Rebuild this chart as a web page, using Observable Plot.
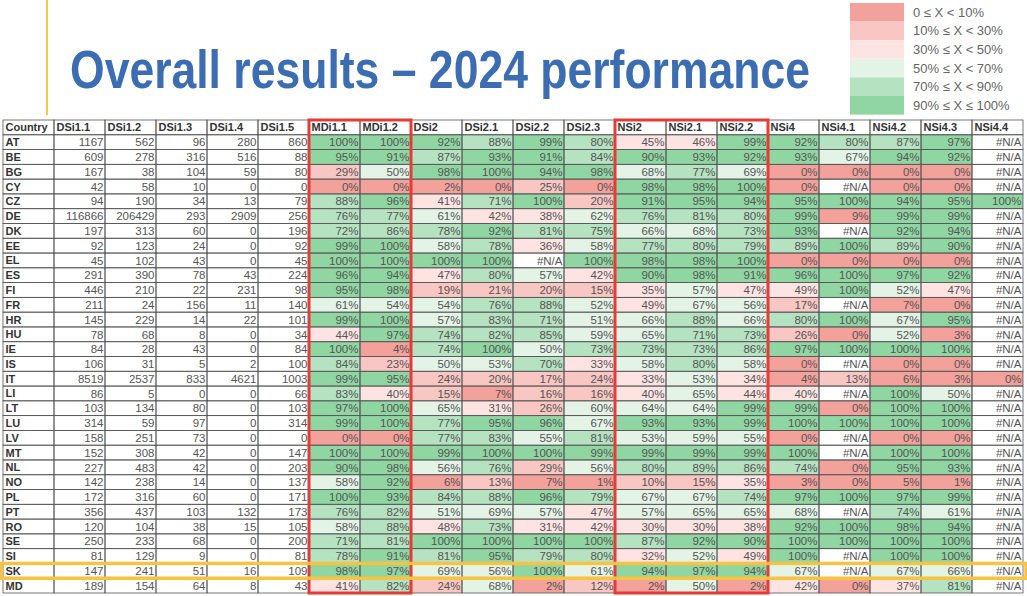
<!DOCTYPE html>
<html><head><meta charset="utf-8">
<script src="https://cdn.jsdelivr.net/npm/d3@7"></script>
<script src="https://cdn.jsdelivr.net/npm/@observablehq/plot@0.6"></script>
<style>
body{margin:0;background:#fff;font-family:"Liberation Sans",Arial,sans-serif;}
#page{position:relative;width:1027px;height:596px;overflow:hidden;background:#fff;}
#head{position:relative;width:1027px;height:118px;}
#chart{position:absolute;left:0;top:118px;}
</style></head><body>
<div id="page">
<div id="head">
<svg id="hsvg" width="1027" height="118" style="position:absolute;left:0;top:0" font-family="Liberation Sans, Arial, sans-serif">
<line x1="47" y1="0" x2="47" y2="115" stroke="#f5c84c" stroke-width="2"/>
<text id="title" x="70" y="88" font-weight="bold" font-size="53" fill="#3c6db3" textLength="740" lengthAdjust="spacingAndGlyphs"></text>
<g id="legend"></g>
</svg>
</div>
<div id="chart"></div>
</div>
<script>
const titleText = "Overall results – 2024 performance";
const countries = ["AT","BE","BG","CY","CZ","DE","DK","EE","EL","ES","FI","FR","HR","HU","IE","IS","IT","LI","LT","LU","LV","MT","NL","NO","PL","PT","RO","SE","SI","SK","MD"];
const countColumns = ["DSi1.1","DSi1.2","DSi1.3","DSi1.4","DSi1.5"];
const pctColumns = ["MDi1.1","MDi1.2","DSi2","DSi2.1","DSi2.2","DSi2.3","NSi2","NSi2.1","NSi2.2","NSi4","NSi4.1","NSi4.2","NSi4.3","NSi4.4"];

const DSi1_1 = [1167,609,167,42,94,116866,197,92,45,291,446,211,145,78,84,106,8519,86,103,314,158,152,227,142,172,356,120,250,81,147,189];
const DSi1_2 = [562,278,38,58,190,206429,313,123,102,390,210,24,229,68,28,31,2537,5,134,59,251,308,483,238,316,437,104,233,129,241,154];
const DSi1_3 = [96,316,104,10,34,293,60,24,43,78,22,156,14,8,43,5,833,0,80,97,73,42,42,14,60,103,38,68,9,51,64];
const DSi1_4 = [280,516,59,0,13,2909,0,0,0,43,231,11,22,0,0,2,4621,0,0,0,0,0,0,0,0,132,15,0,0,16,8];
const DSi1_5 = [860,88,80,0,79,256,196,92,45,224,98,140,101,34,84,100,1003,66,103,314,0,147,203,137,171,173,105,200,81,109,43];

const MDi1_1 = [100,95,29,0,88,76,72,99,100,96,95,61,99,44,100,84,99,83,97,99,0,100,90,58,100,76,58,71,78,98,41];
const MDi1_2 = [100,91,50,0,96,77,86,100,100,94,98,54,100,97,4,23,95,40,100,100,0,100,98,92,93,82,88,81,91,97,82];
const DSi2   = [92,87,98,2,41,61,78,58,100,47,19,54,57,74,74,50,24,15,65,77,77,99,56,6,84,51,48,100,81,69,24];
const DSi2_1 = [88,93,100,0,71,42,92,78,100,80,21,76,83,82,100,53,20,7,31,95,83,100,76,13,88,69,73,100,95,56,68];
const DSi2_2 = [99,91,94,25,100,38,81,36,null,57,20,88,71,85,50,70,17,16,26,96,55,100,29,7,96,57,31,100,79,100,2];
const DSi2_3 = [80,84,98,0,20,62,75,58,100,42,15,52,51,59,73,33,24,16,60,67,81,99,56,1,79,47,42,100,80,61,12];
const NSi2   = [45,90,68,98,91,76,66,77,98,90,35,49,66,65,73,58,33,40,64,93,53,99,80,10,67,57,30,87,32,94,2];
const NSi2_1 = [46,93,77,98,95,81,68,80,98,98,57,67,88,71,73,80,53,65,64,93,59,99,89,15,67,65,30,92,52,97,50];
const NSi2_2 = [99,92,69,100,94,80,73,79,100,91,47,56,66,73,86,58,34,44,99,99,55,99,86,35,74,65,38,90,49,94,2];
const NSi4   = [92,93,0,0,95,99,93,89,0,96,49,17,80,26,97,0,4,40,99,100,0,100,74,3,97,68,92,100,100,67,42];
const NSi4_1 = [80,67,0,null,100,9,null,100,0,100,100,null,100,0,100,null,13,null,0,100,null,null,0,0,100,null,100,100,null,null,0];
const NSi4_2 = [87,94,0,0,94,99,92,89,0,97,52,7,67,52,100,0,6,100,100,100,0,100,95,5,97,74,98,100,100,67,37];
const NSi4_3 = [97,92,0,0,95,99,94,90,0,92,47,0,95,3,100,0,3,50,100,100,0,100,93,1,99,61,94,100,100,66,81];
const NSi4_4 = [null,null,null,null,100,null,null,null,null,null,null,null,null,null,null,null,0,null,null,null,null,null,null,null,null,null,null,null,null,null,null];

const countValues = [DSi1_1, DSi1_2, DSi1_3, DSi1_4, DSi1_5];
const pctValues = [MDi1_1, MDi1_2, DSi2, DSi2_1, DSi2_2, DSi2_3, NSi2, NSi2_1, NSi2_2, NSi4, NSi4_1, NSi4_2, NSi4_3, NSi4_4];

const highlightedGroups = [["MDi1.1","MDi1.2"],["NSi2","NSi2.1","NSi2.2"]];
const highlightedCountry = "SK";

const binThresholds = [10,30,50,70,90];
const binColors = ["#f2a19b","#f8c6c3","#fde4e3","#e3f4e6","#b5e2c1","#90d6a3"];
const binLabels = ["0 ≤ X < 10%","10% ≤ X < 30%","30% ≤ X < 50%","50% ≤ X < 70%","70% ≤ X < 90%","90% ≤ X ≤ 100%"];

document.getElementById("title").textContent = titleText;

// legend (SVG)
const lg = d3.select("#legend");
const rowH = 18.6;
binLabels.forEach((t,i)=>{
  lg.append("rect").attr("x",850).attr("y",3 + i*rowH).attr("width",54).attr("height",rowH).attr("fill",binColors[i]);
  lg.append("text").attr("x",913).attr("y",3 + i*rowH + rowH/2).attr("dy","0.35em")
    .attr("font-size",13).attr("fill","#666").text(t);
});

// table cells
const columns = ["Country", ...countColumns, ...pctColumns];
const rows = ["header", ...countries];
const cells = [];
rows.forEach((row, r) => {
  columns.forEach((col, c) => {
    let label, v = null, kind;
    if (r === 0) { label = col; kind = "head"; }
    else if (c === 0) { label = row; kind = "head"; }
    else if (c <= countColumns.length) { v = countValues[c-1][r-1]; label = String(v); kind = "count"; }
    else { v = pctValues[c-1-countColumns.length][r-1]; label = v == null ? "#N/A" : v + "%"; kind = "pct"; }
    cells.push({row, col, r, c, label, v, kind});
  });
});
const pos = {x1: "c", x2: d => d.c + 1, y1: "r", y2: d => d.r + 1};

const chart = Plot.plot({
  width: 1027,
  height: 478,
  marginTop: 2, marginBottom: 3, marginLeft: 3, marginRight: 4,
  x: {domain: [0, columns.length], range: [3, 1023], axis: null},
  y: {domain: [0, rows.length], range: [2, 475], axis: null},
  color: {type: "threshold", domain: binThresholds, range: binColors},
  style: {fontFamily: "Liberation Sans, Arial, sans-serif", fontSize: "11px", background: "white", overflow: "visible"},
  marks: [
    Plot.rect(cells, {...pos, fill: "white"}),
    Plot.rect(cells.filter(d => d.kind === "pct" && d.v != null), {...pos, fill: "v"}),
    Plot.rect(cells, {...pos, fill: "none", stroke: "#555", strokeWidth: 0.8}),
    Plot.text(cells.filter(d => d.kind === "head"), {x: "c", y: d => d.r + 0.5, text: "label", textAnchor: "start", dx: 2, fontWeight: "bold", fill: "#333", fontSize: 11}),
    Plot.text(cells.filter(d => d.kind !== "head"), {x: d => d.c + 1, y: d => d.r + 0.5, text: "label", textAnchor: "end", dx: -2, fill: "#555", fontSize: 11.5}),
    Plot.rect(highlightedGroups, {x1: g => columns.indexOf(g[0]), x2: g => columns.indexOf(g[g.length-1]) + 1, y1: () => 0, y2: () => rows.length, fill: "none", stroke: "#e63b36", strokeWidth: 3}),
    Plot.rect([highlightedCountry], {x1: () => 0, x2: () => columns.length, y1: d => rows.indexOf(d), y2: d => rows.indexOf(d) + 1, insetLeft: -2, insetRight: -3, fill: "none", stroke: "#f7c343", strokeWidth: 3.5})
  ]
});
document.getElementById("chart").appendChild(chart);
</script>
</body></html>
